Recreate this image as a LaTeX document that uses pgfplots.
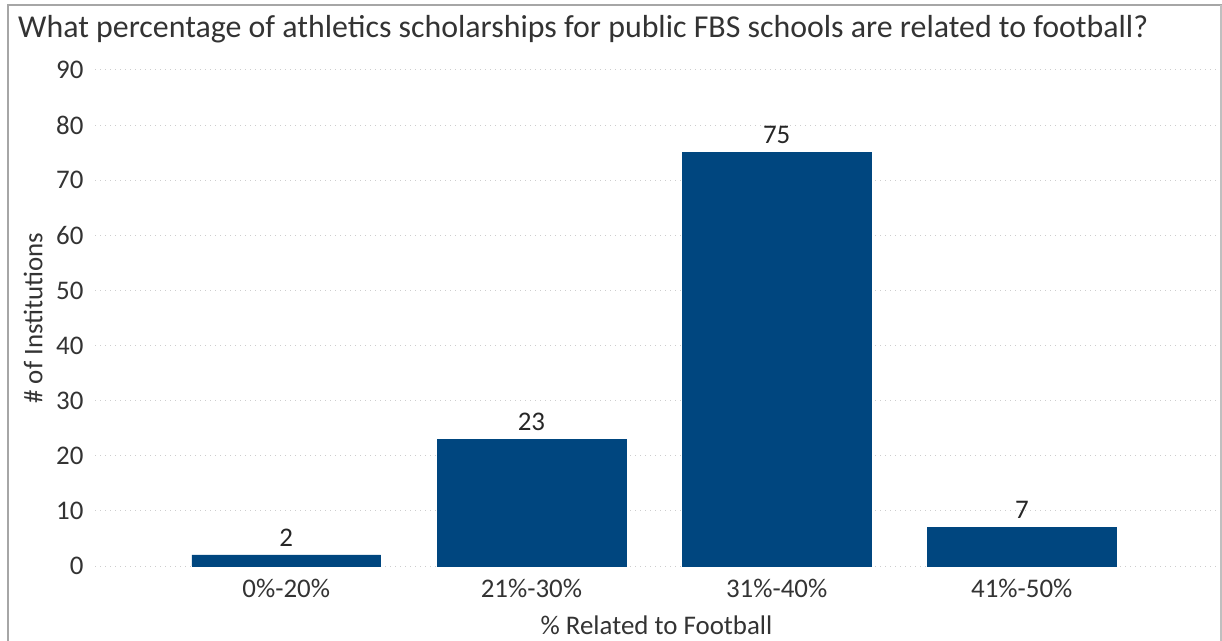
\documentclass[border=0pt]{standalone}
\usepackage{pgfplots}
\pgfplotsset{compat=1.18}
\usepackage{fontspec}
\setmainfont{Carlito}
\definecolor{barblue}{RGB}{0,70,127}
\definecolor{txt}{RGB}{51,51,51}
\definecolor{gridc}{RGB}{205,205,205}
\begin{document}
\begin{tikzpicture}[x=1bp,y=1bp]
\useasboundingbox (0,0) rectangle (1222,-641);
\draw[line width=2bp, color=gray!70] (8,-641) -- (8,-5) -- (1222,-5);
\draw[line width=1.5bp, color=gray!50] (1221,-5) -- (1221,-641);
\node[anchor=west, text=txt, font=\fontsize{32}{36}\selectfont, inner sep=0pt] at (18bp,-29bp) {What percentage of athletics scholarships for public FBS schools are related to football?};
\begin{axis}[
  at={(95bp,-566bp)}, anchor=south west,
  scale only axis, width=1123bp, height=496bp,
  ymin=0, ymax=90, ytick={0,10,...,90},
  xmin=-0.78, xmax=3.8,
  xtick=data, xticklabels={0\%-20\%,21\%-30\%,31\%-40\%,41\%-50\%},
  axis line style={draw=none}, tick style={draw=none},
  ymajorgrids, grid style={gridc, line width=1bp, dash pattern=on 1bp off 4bp},
  ybar, bar width=0.77, bar shift=0pt,
  ticklabel style={font=\fontsize{27}{30}\selectfont, text=txt},
  /pgf/number format/assume math mode=true,
  yticklabel style={xshift=-8bp},
  xticklabel style={yshift=-5bp},
  ylabel={\# of Institutions}, xlabel={\% Related to Football},
  label style={font=\fontsize{27}{30}\selectfont, text=txt},
  ylabel style={at={(axis description cs:-0.055,0.5)}, anchor=center},
  xlabel style={at={(axis description cs:0.5,0)}, anchor=center, yshift=-59bp},
  nodes near coords, nodes near coords style={font=\fontsize{27}{30}\selectfont, text=black!85, yshift=5bp},
]
\addplot[fill=barblue, draw=barblue] coordinates {(0,2) (1,23) (2,75) (3,7)};
\end{axis}
\end{tikzpicture}
\end{document}
